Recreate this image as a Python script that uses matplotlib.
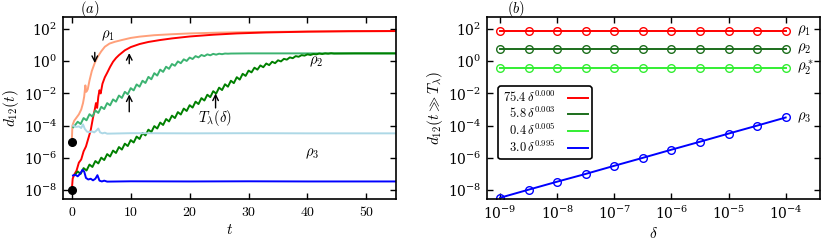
import numpy as np
import matplotlib
matplotlib.use('Agg')
import matplotlib.pyplot as plt
from matplotlib.ticker import FixedLocator, FuncFormatter, NullLocator

plt.rcParams['font.family'] = 'serif'
plt.rcParams['font.serif'] = ['DejaVu Serif']
plt.rcParams['mathtext.fontset'] = 'cm'
plt.rcParams['xtick.direction'] = 'in'
plt.rcParams['ytick.direction'] = 'in'

# ---- panel (a): log10 d12(t) ----
# rho1, delta = 1e-5 (light salmon)
salmon_t = [0, 0.1, 0.4, 0.8, 1.2, 1.6, 1.9, 2.1, 2.3, 2.45, 2.7, 3.0, 3.4, 3.9, 4.4, 5.0, 5.6,
            6.4, 7.3, 8.5, 10, 11.5, 14, 17, 20, 25, 30, 40, 55]
salmon_logd = [-5.0, -4.0, -3.7, -3.5, -3.3, -3.0, -2.6, -2.2, -1.5, -1.9, -1.75, -1.2, -0.6, -0.1,
               0.28, 0.62, 0.9, 1.1, 1.21, 1.32, 1.45, 1.53, 1.62, 1.68, 1.73, 1.78, 1.81, 1.85, 1.87]

# rho1, delta = 1e-8 (red)
red_t = [0, 0.15, 0.4, 0.8, 1.2, 1.6, 2.0, 2.4, 2.8, 3.2, 3.6, 3.9, 4.1, 4.3, 4.5, 4.7, 4.9, 5.2,
         5.6, 6.0, 6.5, 7.0, 7.5, 8.0, 9.0, 10.0, 11.5, 13, 15, 17, 20, 24, 28, 33, 40, 47, 55]
red_logd = [-8.0, -7.3, -7.05, -6.8, -6.3, -6.1, -5.6, -5.3, -4.8, -4.3, -3.5, -3.0, -2.6, -2.9,
            -2.2, -1.8, -2.0, -1.4, -1.0, -0.72, -0.35, -0.03, 0.2, 0.38, 0.68, 0.88, 1.07, 1.2,
            1.32, 1.42, 1.54, 1.65, 1.73, 1.79, 1.84, 1.87, 1.88]

# rho2, delta = 1e-5 (medium green), sampled every 0.5 from t = 0.5
mgreen_logd = [-4.00, -3.76, -3.90, -3.53, -3.67, -3.29, -3.44, -3.06, -3.21, -2.83, -2.97,
               -2.60, -2.74, -2.37, -2.51, -2.13, -2.28, -1.90, -2.05, -1.67, -1.81, -1.44,
               -1.58, -1.21, -1.35, -0.97, -1.12, -0.74, -0.89, -0.52, -0.66, -0.34, -0.47,
               -0.17, -0.28, -0.01, -0.12, 0.12, 0.02, 0.23, 0.14, 0.32, 0.24, 0.39, 0.32,
               0.43, 0.37, 0.46, 0.41, 0.47, 0.44, 0.48, 0.47, 0.48]
mgreen_tail_t = [30, 40, 55]
mgreen_tail_logd = [0.49, 0.49, 0.49]

# rho2, delta = 1e-8 (dark green), sampled every 0.5 from t = 0.5
dgreen_logd = [-7.07, -6.85, -7.00, -6.64, -6.79, -6.42, -6.57, -6.20, -6.35, -5.99, -6.14,
               -5.77, -5.92, -5.55, -5.70, -5.33, -5.49, -5.12, -5.27, -4.90, -5.05, -4.68,
               -4.83, -4.46, -4.61, -4.25, -4.40, -4.03, -4.18, -3.81, -3.96, -3.59, -3.74,
               -3.38, -3.53, -3.16, -3.31, -2.94, -3.09, -2.73, -2.88, -2.51, -2.66, -2.29,
               -2.44, -2.08, -2.23, -1.86, -2.01, -1.64, -1.79, -1.43, -1.58, -1.21, -1.36,
               -0.99, -1.14, -0.78, -0.91, -0.58, -0.69, -0.40, -0.52, -0.26, -0.37, -0.14,
               -0.24, -0.03, -0.12, 0.06, -0.01, 0.15, 0.10, 0.24, 0.19, 0.32, 0.28, 0.38,
               0.35, 0.43, 0.39, 0.45, 0.43, 0.48, 0.45, 0.49, 0.47, 0.50, 0.48]
dgreen_tail_t = [48, 52, 55]
dgreen_tail_logd = [0.49, 0.49, 0.49]

# rho3, delta = 1e-5 (light blue)
lblue_t = [0.25, 0.7, 1.2, 1.6, 1.9, 2.2, 2.6, 3.0, 3.4, 3.8, 4.2, 4.5, 4.8, 5.2, 5.6, 6.0,
           10, 20, 30, 40, 55]
lblue_logd = [-4.0, -4.08, -4.05, -4.15, -3.92, -4.2, -4.38, -4.4, -4.36, -4.42, -4.3, -4.18,
              -4.42, -4.48, -4.44, -4.5, -4.47, -4.48, -4.47, -4.48, -4.48]

# rho3, delta = 1e-8 (blue)
blue_t = [0.2, 0.6, 1.0, 1.4, 1.8, 2.1, 2.4, 2.8, 3.2, 3.6, 4.0, 4.35, 4.7, 5.1, 5.5, 6.0,
          10, 20, 30, 40, 55]
blue_logd = [-7.1, -7.05, -7.15, -7.0, -6.75, -6.85, -7.25, -7.35, -7.3, -7.4, -7.3, -7.08,
             -7.42, -7.47, -7.42, -7.48, -7.46, -7.47, -7.46, -7.47, -7.47]

start_t = [0, 0]
start_d = [1e-5, 1e-8]

# ---- panel (b): d12(t >> T_lambda) vs delta ----
delta = [1e-9, 3.16e-9, 1e-8, 3.16e-8, 1e-7, 3.16e-7, 1e-6, 3.16e-6, 1e-5, 3.16e-5, 1e-4]
d_rho1 = [75.4] * 11
d_rho2 = [5.8] * 11
d_rho2s = [0.4] * 11
d_rho3 = [3.3e-9, 1.05e-8, 3.3e-8, 1.0e-7, 3.2e-7, 1.0e-6, 3.2e-6, 1.0e-5, 3.2e-5, 1.0e-4, 3.2e-4]
fit_labels = [r'$75.4\,\delta^{0.000}$', r'$\ \ 5.8\,\delta^{0.003}$',
              r'$\ \ 0.4\,\delta^{0.005}$', r'$\ \ 3.0\,\delta^{0.995}$']
fit_colors = ['#ff0000', '#1c6e1c', '#33ee33', '#0000ff']

fig = plt.figure(figsize=(8.22, 2.42), dpi=100)
ax1 = fig.add_axes([0.0766, 0.1777, 0.405, 0.752])
ax2 = fig.add_axes([0.5925, 0.1777, 0.405, 0.752])


def style_axis(ax):
    for s in ax.spines.values():
        s.set_linewidth(1.2)
    ax.tick_params(which='both', top=True, right=True, labelsize=10, length=4.5, width=1, pad=4)
    ax.set_yscale('log')
    ax.set_ylim(10 ** -8.56, 10 ** 2.75)
    ax.yaxis.set_major_locator(FixedLocator([1e-8, 1e-6, 1e-4, 1e-2, 1e0, 1e2]))
    ax.yaxis.set_minor_locator(NullLocator())


# panel (a)
lw = 1.4
ax1.plot(salmon_t, 10 ** np.array(salmon_logd), color='#ffa07a', lw=lw)
ax1.plot(red_t, 10 ** np.array(red_logd), color='#ff0000', lw=lw)
mg_t = list(0.5 * np.arange(1, len(mgreen_logd) + 1))
ax1.plot([0.25] + mg_t + mgreen_tail_t, 10 ** np.array([-4.1] + mgreen_logd + mgreen_tail_logd),
         color='#3cb371', lw=lw)
dg_t = list(0.5 * np.arange(1, len(dgreen_logd) + 1))
ax1.plot(dg_t + dgreen_tail_t, 10 ** np.array(dgreen_logd + dgreen_tail_logd),
         color='#008000', lw=lw)
ax1.plot(lblue_t, 10 ** np.array(lblue_logd), color='#add8e6', lw=lw)
ax1.plot(blue_t, 10 ** np.array(blue_logd), color='#0000ff', lw=lw)
ax1.plot(start_t, start_d, 'o', color='black', ms=5.5, clip_on=False, zorder=5)

style_axis(ax1)
ax1.set_xlim(-1.5, 55)
ax1.xaxis.set_major_locator(FixedLocator([0, 10, 20, 30, 40, 50]))
ax1.xaxis.set_major_formatter(FuncFormatter(lambda v, p: r'$%d$' % v))
ax1.set_xlabel(r'$t$', fontsize=11, labelpad=3)
ax1.set_ylabel(r'$d_{12}(t)$', fontsize=11, labelpad=2)

arrow = dict(arrowstyle='->', color='black', lw=1.0, shrinkA=0, shrinkB=0)
ax1.annotate('', xy=(3.9, 10 ** -0.11), xytext=(3.9, 10 ** 0.55), arrowprops=arrow)
ax1.annotate('', xy=(9.75, 10 ** 0.51), xytext=(9.75, 10 ** -0.15), arrowprops=arrow)
ax1.annotate('', xy=(9.75, 10 ** -2.06), xytext=(9.75, 10 ** -3.14), arrowprops=arrow)
ax1.annotate('', xy=(24.4, 10 ** -2.0), xytext=(24.4, 10 ** -2.9), arrowprops=arrow)
ax1.text(6.1, 10 ** 1.6, r'$\rho_1$', fontsize=10.5, ha='center', va='center')
ax1.text(41.4, 10 ** -0.05, r'$\rho_2$', fontsize=10.5, ha='center', va='center')
ax1.text(40.8, 10 ** -5.76, r'$\rho_3$', fontsize=10.5, ha='center', va='center')
ax1.text(24.2, 10 ** -3.55, r'$T_\lambda(\delta)$', fontsize=10.5, ha='center', va='center')
ax1.text(0.08, 1.045, r'$(a)$', transform=ax1.transAxes, fontsize=10.5, ha='center', va='center')

# panel (b)
series_b = [d_rho1, d_rho2, d_rho2s, d_rho3]
for vals, lab, col in zip(series_b, fit_labels, fit_colors):
    ax2.plot(delta, vals, '-', color=col, lw=1.4, label=lab)
    ax2.plot(delta, vals, 'o', mfc='none', mec=col, mew=1.0, ms=5.5)

style_axis(ax2)
ax2.set_xscale('log')
ax2.set_xlim(10 ** -9.23, 10 ** -3.4)
ax2.xaxis.set_major_locator(FixedLocator([1e-9, 1e-8, 1e-7, 1e-6, 1e-5, 1e-4]))
ax2.xaxis.set_minor_locator(NullLocator())
ax2.set_xlabel(r'$\delta$', fontsize=11, labelpad=3)
ax2.set_ylabel(r'$d_{12}(t\gg T_\lambda)$', fontsize=11, labelpad=2)

for vals, lab in zip(series_b, [r'$\rho_1$', r'$\rho_2$', r'$\rho_2^*$', r'$\rho_3$']):
    ax2.text(1.55e-4, vals[-1], lab, fontsize=10.5, ha='left', va='center')

leg = ax2.legend(loc='upper left', bbox_to_anchor=(0.015, 0.655), markerfirst=False,
                 fontsize=9, handlelength=1.6, labelspacing=0.1, borderpad=0.3,
                 handletextpad=1.0, fancybox=True, framealpha=1)
leg.get_frame().set_edgecolor('black')
leg.get_frame().set_linewidth(1.2)
ax2.text(0.087, 1.045, r'$(b)$', transform=ax2.transAxes, fontsize=10.5, ha='center', va='center')

fig.savefig('out.png', dpi=100)
